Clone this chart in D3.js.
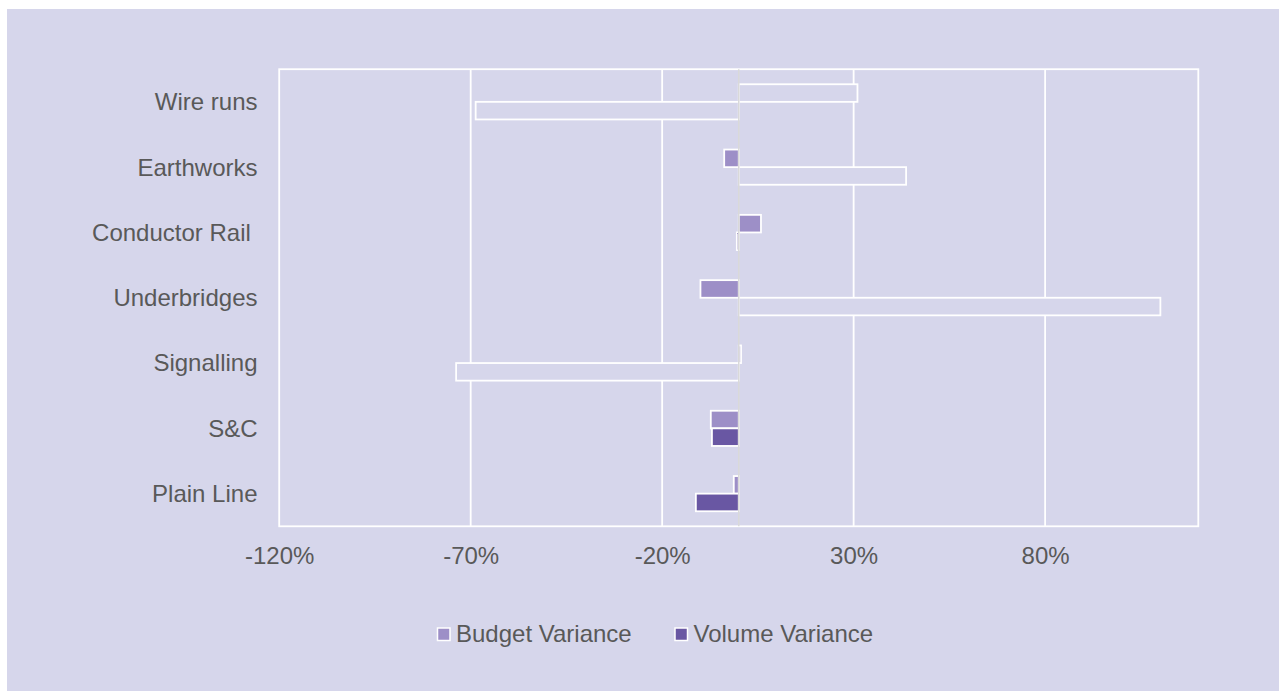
<!DOCTYPE html>
<html>
<head>
<meta charset="utf-8">
<script src="https://cdn.jsdelivr.net/npm/d3@7/dist/d3.min.js"></script>
<style>
  html, body { margin: 0; padding: 0; background: #ffffff; }
  svg { display: block; font-family: "Liberation Sans", Arial, Helvetica, sans-serif; }
</style>
</head>
<body>
<svg id="chart" width="1286" height="700"></svg>
<script>
// Cost variance by asset category (percent)
const categories = ["Wire runs", "Earthworks", "Conductor Rail ", "Underbridges", "Signalling", "S&C", "Plain Line"];
const budgetVariance = [31.0, -3.8, 5.8, -10.0, 0.6, -7.3, -1.3];
const volumeVariance = [-68.7, 43.7, -0.5, 110.1, -73.8, -7.0, -11.2];
const seriesNames = ["Budget Variance", "Volume Variance"];
const xTicks = [-120, -70, -20, 30, 80];

const plot = { left: 279.2, right: 1198.3, top: 69.2, bottom: 526.3 };
const colors = ["#9d8fc7", "#6957a3"];
const bg = "#d6d6eb";
const textColor = "#595959";
const fontSize = 24;
// bars past this magnitude are drawn as outlines only
const hollowBeyond = 20;

const svg = d3.select("#chart");

svg.append("rect")
  .attr("x", 7).attr("y", 9)
  .attr("width", 1272).attr("height", 682)
  .attr("fill", bg);

const x = d3.scaleLinear().domain([-120, 120]).range([plot.left, plot.right]);
const y = d3.scaleBand().domain(categories).range([plot.top, plot.bottom]);
const barH = 17.6;
const sub = d3.scaleBand().domain(seriesNames).range([-barH, barH]);

// vertical gridlines
svg.append("g").selectAll("line")
  .data(xTicks.slice(1))
  .join("line")
  .attr("x1", d => x(d)).attr("x2", d => x(d))
  .attr("y1", plot.top).attr("y2", plot.bottom)
  .attr("stroke", "#ffffff").attr("stroke-width", 1.8);

// plot border
svg.append("rect")
  .attr("x", plot.left).attr("y", plot.top)
  .attr("width", plot.right - plot.left).attr("height", plot.bottom - plot.top)
  .attr("fill", "none").attr("stroke", "#ffffff").attr("stroke-width", 1.8);

// bars
const rows = [];
categories.forEach((c, i) => {
  rows.push({ cat: c, series: seriesNames[0], v: budgetVariance[i], color: colors[0] });
  rows.push({ cat: c, series: seriesNames[1], v: volumeVariance[i], color: colors[1] });
});

svg.append("g").selectAll("rect")
  .data(rows)
  .join("rect")
  .attr("x", d => Math.min(x(0), x(d.v)))
  .attr("width", d => Math.abs(x(d.v) - x(0)))
  .attr("y", d => y(d.cat) + y.bandwidth() / 2 + sub(d.series))
  .attr("height", sub.bandwidth())
  .attr("fill", d => Math.abs(d.v) > hollowBeyond ? bg : d.color)
  .attr("stroke", "#ffffff").attr("stroke-width", 1.8);

// zero axis line
svg.append("line")
  .attr("x1", x(0)).attr("x2", x(0))
  .attr("y1", plot.top).attr("y2", plot.bottom)
  .attr("stroke", "#d9d9d9").attr("stroke-width", 1.5);

// category labels
svg.append("g").selectAll("text")
  .data(categories)
  .join("text")
  .attr("x", 257.5)
  .attr("y", d => y(d) + y.bandwidth() / 2)
  .attr("dy", "0.35em")
  .attr("text-anchor", "end")
  .attr("xml:space", "preserve")
  .style("white-space", "pre")
  .attr("font-size", fontSize)
  .attr("fill", textColor)
  .text(d => d);

// x axis tick labels
const xAxis = d3.axisBottom(x).tickValues(xTicks).tickFormat(d => d + "%").tickSize(0).tickPadding(0);
const gx = svg.append("g").attr("transform", `translate(0, ${plot.bottom})`).call(xAxis);
gx.select(".domain").remove();
gx.selectAll("text")
  .attr("y", 38).attr("dy", 0)
  .attr("font-size", fontSize)
  .attr("font-family", "Liberation Sans, Arial, sans-serif")
  .attr("fill", textColor);

// legend
const legendItems = [
  { name: seriesNames[0], color: colors[0], x: 437.5 },
  { name: seriesNames[1], color: colors[1], x: 675 }
];
const lg = svg.append("g").selectAll("g")
  .data(legendItems)
  .join("g")
  .attr("transform", d => `translate(${d.x}, 628)`);
lg.append("rect")
  .attr("width", 12.5).attr("height", 12.5)
  .attr("fill", d => d.color)
  .attr("stroke", "#ffffff").attr("stroke-width", 1.5);
lg.append("text")
  .attr("x", 18.5).attr("y", 13.5)
  .attr("font-size", fontSize)
  .attr("fill", textColor)
  .text(d => d.name);
</script>
</body>
</html>
